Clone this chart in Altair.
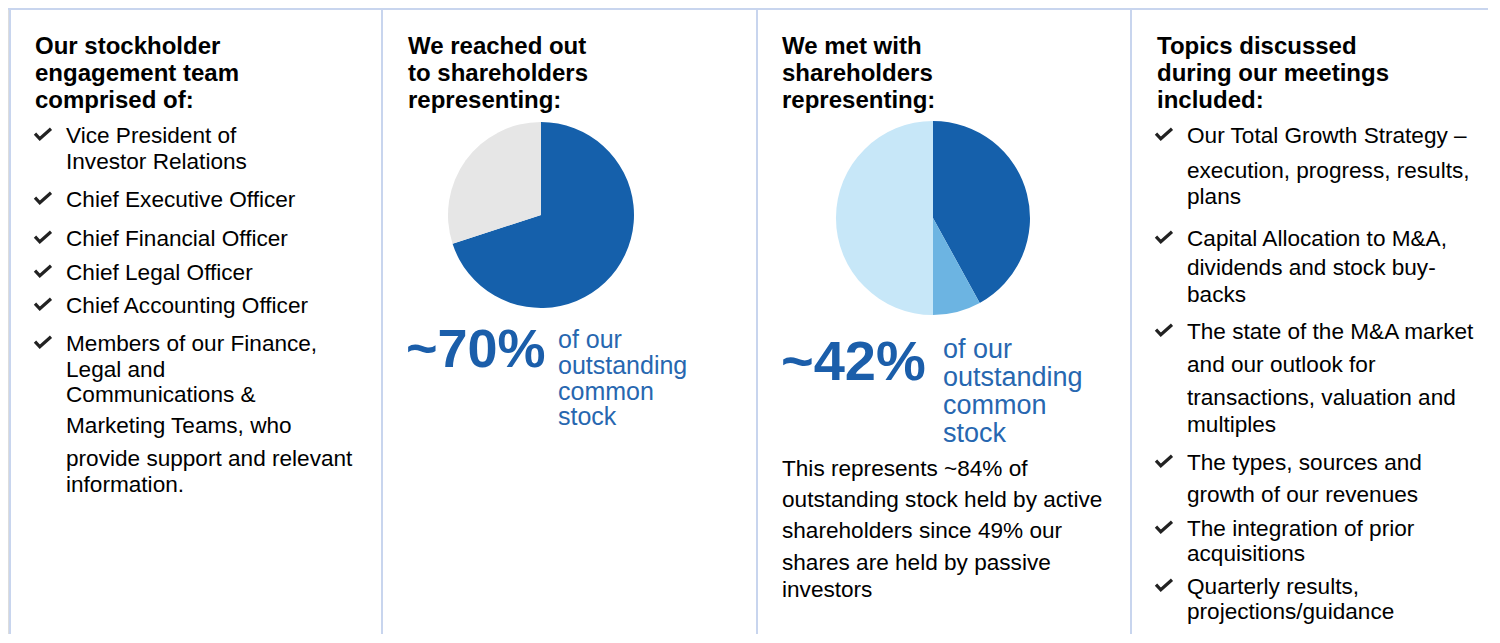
import altair as alt
import pandas as pd

# ---------------- data ----------------
headers = [
    ["Our stockholder", "engagement team", "comprised of:"],
    ["We reached out", "to shareholders", "representing:"],
    ["We met with", "shareholders", "representing:"],
    ["Topics discussed", "during our meetings", "included:"],
]
team_items = [
    ["Vice President of", "Investor Relations"],
    ["Chief Executive Officer"],
    ["Chief Financial Officer"],
    ["Chief Legal Officer"],
    ["Chief Accounting Officer"],
    ["Members of our Finance,", "Legal and", "Communications &",
     "Marketing Teams, who", "provide support and relevant", "information."],
]
topic_items = [
    ["Our Total Growth Strategy \u2013", "execution, progress, results,", "plans"],
    ["Capital Allocation to M&A,", "dividends and stock buy-", "backs"],
    ["The state of the M&A market", "and our outlook for",
     "transactions, valuation and", "multiples"],
    ["The types, sources and", "growth of our revenues"],
    ["The integration of prior", "acquisitions"],
    ["Quarterly results,", "projections/guidance"],
]
reached_segments = ["Reached", "Not reached"]
reached_values = [70, 30]
met_segments = ["Met", "Met (other)", "Not met"]
met_values = [42, 8, 50]
reached_label = "~70%"
met_label = "~42%"
pct_caption = ["of our", "outstanding", "common", "stock"]
met_note = ["This represents ~84% of", "outstanding stock held by active",
            "shareholders since 49% our", "shares are held by passive", "investors"]

# ---------------- layout / style ----------------
W, H = 1480, 626
FONT = "Liberation Sans"
BORDER = "#c8d5ee"
BLUE_TXT = "#1b5eaa"
BLUE_CAP = "#2767b0"
pie_colors = {
    "Reached": "#1560ab", "Not reached": "#e6e6e6",
    "Met": "#1560ab", "Met (other)": "#6cb4e2", "Not met": "#c7e7f8",
}
divider_x = [2, 374, 749, 1123]
head_x = [27, 400, 774, 1149]
head_y0, head_step = 46, 27
team_y0, team_steps = 135, [26, 38, 39, 34, 33, 38, 26, 25, 31, 33, 26]
topic_y0, topic_steps = 135, [35, 26, 42, 29, 27, 37, 33, 33, 27, 38, 32, 34, 25, 33, 25]
note_y0, note_steps = 468, [31, 31, 32, 27]
BODY_FS = 22.6
HEAD_FS = 24


def cumulative(y0, steps):
    ys = [y0]
    for s in steps:
        ys.append(ys[-1] + s)
    return ys


rows_bold = []
rows_reg = []
checks = []

for i, lines in enumerate(headers):
    for j, t in enumerate(lines):
        rows_bold.append(dict(text=t, x=head_x[i], y=head_y0 + j * head_step,
                              fs=HEAD_FS, color="#000000"))


def add_list(items, text_x, check_x, y0, steps):
    ys = cumulative(y0, steps)
    k = 0
    for item in items:
        checks.append(dict(x=check_x, y=ys[k] - 9))
        for t in item:
            rows_reg.append(dict(text=t, x=text_x, y=ys[k], fs=BODY_FS, color="#000000"))
            k += 1


add_list(team_items, 58, 35, team_y0, team_steps)
add_list(topic_items, 1179, 1156, topic_y0, topic_steps)

for t, y in zip(met_note, cumulative(note_y0, note_steps)):
    rows_reg.append(dict(text=t, x=774, y=y, fs=BODY_FS, color="#000000"))

rows_bold.append(dict(text=reached_label, x=398, y=359, fs=54, color=BLUE_TXT))
rows_bold.append(dict(text=met_label, x=773, y=372, fs=56, color=BLUE_TXT))
for j, t in enumerate(pct_caption):
    rows_reg.append(dict(text=t, x=550, y=340 + j * 25.8, fs=25, color=BLUE_CAP))
    rows_reg.append(dict(text=t, x=935, y=350 + j * 28, fs=27, color=BLUE_CAP))

df_bold = pd.DataFrame(rows_bold)
df_reg = pd.DataFrame(rows_reg)
df_checks = pd.DataFrame(checks)

xs = alt.Scale(domain=[0, W], nice=False, zero=False)
ys = alt.Scale(domain=[0, H], nice=False, zero=False, reverse=True)


def text_layer(df, weight):
    return alt.Chart(df).mark_text(
        align="left", baseline="alphabetic", font=FONT, fontWeight=weight
    ).encode(
        x=alt.X("x:Q", scale=xs, axis=None),
        y=alt.Y("y:Q", scale=ys, axis=None),
        text="text:N",
        size=alt.Size("fs:Q", scale=None, legend=None),
        color=alt.Color("color:N", scale=None, legend=None),
    )


# borders
df_div = pd.DataFrame({"x": divider_x, "y": [0] * 4, "y2": [H] * 4})
dividers = alt.Chart(df_div).mark_rule(color=BORDER, strokeWidth=2).encode(
    x=alt.X("x:Q", scale=xs, axis=None),
    y=alt.Y("y:Q", scale=ys, axis=None),
    y2="y2:Q",
)
top_line = alt.Chart(pd.DataFrame({"x": [0], "x2": [W], "y": [1]})).mark_rule(
    color=BORDER, strokeWidth=2
).encode(
    x=alt.X("x:Q", scale=xs, axis=None),
    x2="x2:Q",
    y=alt.Y("y:Q", scale=ys, axis=None),
)

# pies
df_p1 = pd.DataFrame({"segment": reached_segments, "value": reached_values})
df_p1["order"] = range(len(df_p1))
df_p1["fill"] = df_p1["segment"].map(pie_colors)
df_p2 = pd.DataFrame({"segment": met_segments, "value": met_values})
df_p2["order"] = range(len(df_p2))
df_p2["fill"] = df_p2["segment"].map(pie_colors)


def pie(df, cx, cy, r):
    return alt.Chart(df).mark_arc(radius=r).encode(
        theta=alt.Theta("value:Q", stack=True),
        color=alt.Color("fill:N", scale=None, legend=None),
        order=alt.Order("order:Q"),
        x=alt.value(cx),
        y=alt.value(cy),
    )


pie1 = pie(df_p1, 533, 207, 93)
pie2 = pie(df_p2, 925, 210, 97)

checkmarks = alt.Chart(df_checks).mark_point(
    shape="M-1,-0.05 L-0.4,0.6 L1,-0.65",
    filled=False, size=256, strokeWidth=3.2, color="#222222", opacity=1,
).encode(
    x=alt.X("x:Q", scale=xs, axis=None),
    y=alt.Y("y:Q", scale=ys, axis=None),
)

chart = alt.layer(
    dividers, top_line, pie1, pie2, checkmarks,
    text_layer(df_reg, "normal"), text_layer(df_bold, "bold"),
).resolve_scale(theta="independent", color="independent").properties(
    width=W, height=H, padding=0, autosize=alt.AutoSizeParams(type="none")
).configure_view(stroke=None).configure(background="white")

chart.save("out.html", embed_options={"renderer": "svg", "actions": False})
